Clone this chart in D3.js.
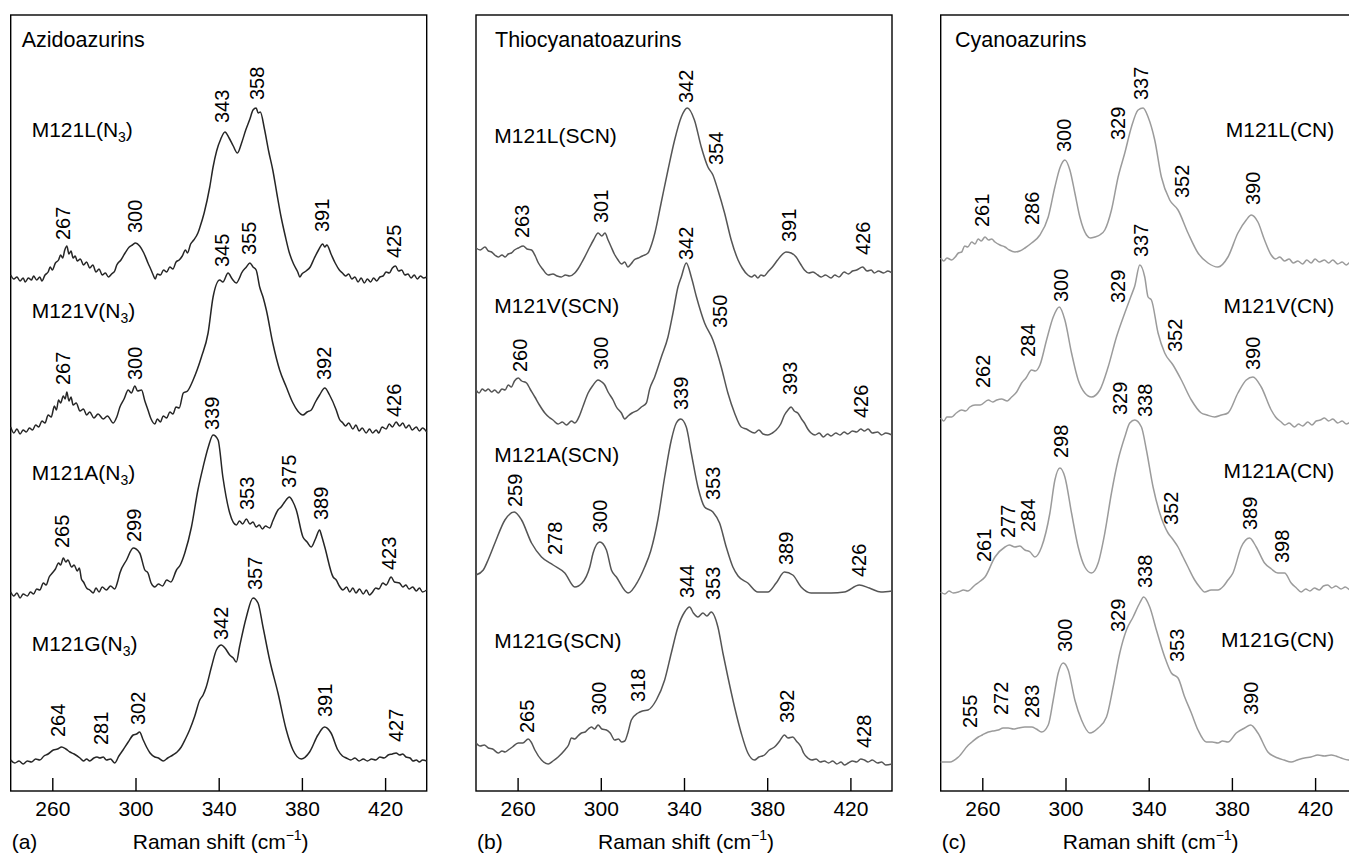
<!DOCTYPE html>
<html><head><meta charset="utf-8">
<script src="https://cdn.jsdelivr.net/npm/d3@7"></script>
<style>body{margin:0;background:#fff} svg{display:block} text{font-family:"Liberation Sans",Arial,Helvetica,sans-serif;fill:#000}</style>
</head><body><svg id="chart" width="1349" height="854"></svg>
<script>
// ---------- DATA ----------
const xDomain = [240, 440];
const yDomain = [0, 776];           // arbitrary Raman intensity (offset traces)
const tickValues = [260, 300, 340, 380, 420];
const panelLetters = ["(a)", "(b)", "(c)"];
const panelTitles = ["Azidoazurins", "Thiocyanatoazurins", "Cyanoazurins"];
const mutants = ["M121L", "M121V", "M121A", "M121G"];
const ligands = [["N", "3"], ["SCN", ""], ["CN", ""]];

// spectra: [Raman shift cm-1, intensity]
const azidoL = [[240,516],[241.5,512],[243,514],[244.5,510],[246,513],[247,509],[248.5,513],[250,511],[251,515],[252.5,511],[254,514],[255,510],[256.5,516],[258,519],[259,524],[260,521],[261.5,528],[263,531],[264,536],[265,533],[266,541],[267,545],[268,537],[269,540],[270,533],[271,535],[272,530],[273.5,532],[275,526],[276.5,529],[278,523],[279.5,526],[281,519],[282.5,522],[284,516],[285.5,518],[287,514],[288.5,517],[290,520],[291,526],[293,531],[295,538],[297,544],[298.5,546],[300,548],[302,545],[304,538],[306,528],[307.5,521],[308.5,516],[309.5,512],[310.5,517],[312,516],[313.5,521],[315,519],[316.5,524],[318,522],[319.5,529],[321,531],[322.5,535],[324,541],[325,538],[326.5,547],[328,551],[330,558],[331,564],[333,578],[335.7,604],[337.3,624],[339,640],[341,652],[343,659],[345,653],[347,645],[349,638],[351,648],[353,661],[355,672],[356.5,681],[358,683],[359,678],[360,679],[362,662],[364,640],[366,621],[368,597],[370,574],[372,555],[374,538],[376,527],[378,519],[379,514],[380,517],[382,520],[384,524],[386,533],[388,541],[390,547],[391,544],[392,546],[394,537],[396,528],[398,521],[399.5,518],[401,515],[402.5,517],[404,512],[405.5,514],[407,509],[408.5,513],[410,508],[411.5,512],[413,509],[414.5,513],[416,510],[417.5,514],[419,515],[420.5,519],[422,518],[423.5,523],[425,525],[426.5,520],[428,521],[429.5,516],[431,517],[432.5,513],[434,516],[435.5,512],[437,515],[438.5,513],[440,514]];
const azidoV = [[240,364],[241.5,358],[243,362],[244.5,357],[246,361],[247.5,359],[249,363],[250.5,361],[252,366],[253.5,364],[255,370],[256.5,368],[258,376],[259.5,374],[261,385],[262,381],[263,391],[264,388],[265.3,395],[266.2,392],[267,399],[268,390],[269,394],[270,386],[271.5,388],[273.3,380],[275,382],[276.5,376],[278,379],[280,373],[282,377],[284.5,372],[286.5,375],[289.3,368],[291,374],[292.5,384],[294.5,392],[296.5,401],[298,398],[299.7,405],[301,400],[302.9,401],[304.5,390],[306,381],[307.5,372],[309.3,367],[310.5,372],[312,369],[313.3,375],[315,373],[316.5,379],[318,377],[319.5,384],[321,383],[323,398],[325,400],[327.7,411],[331.7,434],[334.9,458],[337.3,494],[340.5,511],[342,509],[344.5,518],[346.5,512],[348.5,508],[350,513],[351,518],[353.3,524],[355,528],[356.5,524],[358,521],[359.7,504],[361.3,494],[362.9,481],[366,448],[369.3,421],[372.5,404],[375.7,388],[378,380],[380.5,376],[382.5,379],[384.5,381],[386.5,389],[388.5,396],[391,403],[393.3,396],[396.5,381],[398,372],[399.7,368],[401,365],[402.5,368],[404.5,362],[406,366],[407.5,360],[409,363],[410.9,358],[412.5,362],[414,358],[415.7,361],[417,358],[418.5,364],[420.5,362],[422,367],[423.5,364],[425.3,369],[427,365],[428.5,368],[430,363],[431.5,366],[433,361],[435,364],[436.5,360],[438,363],[440,359]];
const azidoA = [[240,199],[241.5,195],[243,198],[244.5,193],[246,197],[248,195],[249.5,199],[251,197],[252.5,202],[254,201],[255.7,208],[257,206],[258.5,214],[260,218],[261.5,222],[263,228],[264,226],[265.3,233],[266.5,229],[267.5,231],[269.3,224],[270.5,226],[272,220],[273,223],[274,212],[275,209],[276.5,203],[278,201],[279.7,198],[281,203],[282.5,199],[284,204],[286,201],[288,205],[290,202],[291.5,210],[292.5,218],[295.7,231],[298.9,243],[302,238],[304.5,221],[306,218],[307.5,208],[309.3,204],[311,207],[313,205],[315,211],[317,209],[319.7,221],[321.5,226],[323.7,238],[326.9,264],[330,301],[332.5,324],[335,344],[337.3,356],[339.7,351],[342,314],[345.3,278],[348.5,266],[350,270],[351.5,267],[353.3,272],[355,267],[356.5,269],[358,264],[359.5,266],[361,262],[362.5,265],[364.5,263],[366,270],[368.5,281],[370,284],[371.7,289],[374,294],[375.5,290],[377.3,281],[380.5,254],[382.5,249],[384.5,244],[386.5,252],[388.5,261],[389.5,255],[391,244],[395,214],[396.5,211],[398,205],[399.7,201],[401.5,204],[403,199],[404.5,203],[406,198],[407.7,202],[409.5,197],[411,201],[412.5,196],[414,199],[415.5,203],[417,202],[418.9,208],[420.5,206],[422.9,214],[424.5,209],[426.9,208],[428.5,204],[430,206],[431.5,202],[433.3,204],[435,200],[436.5,203],[438,199],[440,201]];
const azidoG = [[240,31],[242,28],[244,30],[246,27],[248,30],[250,29],[252,32],[254,31],[256,35],[258,37],[260.5,41],[262.5,42],[264.5,44],[266.5,42],[268.5,39],[270.5,37],[273.3,33],[275,30],[276.5,32],[278,30],[280,33],[281.5,34],[282.9,33],[284.5,34],[286,31],[288,32],[290,28],[292,35],[294,41],[296.5,49],[298.9,56],[300.5,57],[302,59],[303.5,52],[305.3,44],[307,38],[309.3,34],[311,33],[313.3,30],[315.5,33],[318,36],[320,39],[322,44],[324,52],[326,61],[328.5,75],[330.9,91],[332.5,96],[334,104],[336.5,124],[338.9,141],[341.3,146],[343,143],[345.3,136],[347,133],[348.5,129],[350,144],[353.3,174],[356.5,193],[358.9,188],[361.3,164],[364.5,131],[368.5,98],[372.5,61],[375.7,41],[379.7,32],[383.7,39],[387.7,56],[390.9,64],[394,58],[397.3,41],[399.5,35],[401.3,33],[403.5,31],[405.5,33],[407.5,30],[409.5,32],[411.5,30],[413.5,32],[415.5,31],[417.5,34],[419.5,33],[421.5,36],[423.5,37],[425.3,38],[427,36],[428.5,37],[430,34],[432,33],[433.5,30],[435,31],[436.5,29],[438,31],[440,30]];

const scnL = [[240,543],[242,541],[244.3,544],[246,540],[247.5,539],[249,536],[250.7,534],[252.5,536],[254,534],[255.5,537],[257,538],[258.5,541],[260.3,543],[262.7,545],[264.5,542],[266.7,541],[268.5,535],[270,528],[272,522],[274.7,516],[277,517],[279,515],[281,514],[283,516],[285,515],[287.5,518],[289,522],[290.7,528],[292.5,535],[294.7,544],[296.5,551],[298.7,558],[300.5,555],[302,558],[303.5,551],[305,544],[306.5,537],[308.3,531],[310,527],[311.5,529],[313,524],[314.5,527],[316,531],[318,533],[320,535],[322.7,538],[324.5,547],[326,558],[329,588],[332.3,621],[335.5,651],[338.7,674],[341.6,683],[345,671],[348.3,644],[351.5,624],[353.9,616],[356.3,601],[359.5,578],[362.7,551],[366,531],[368,523],[370.7,516],[372.5,514],[374,516],[375.5,513],[377,516],[378.5,515],[380.3,519],[382.5,524],[385,531],[387,536],[389,539],[391.5,538],[393.9,534],[396,527],[397.9,521],[400,518],[402,519],[404.3,516],[406,514],[408,516],[410.7,513],[412.5,516],[414.5,514],[417,519],[419,517],[421,520],[423,521],[425.9,524],[428,520],[430,521],[431.5,518],[433.5,520],[436,518],[438,520],[440,518]];
const scnV = [[240,401],[241.5,398],[243,402],[244.5,400],[245.9,402],[247.5,399],[249,401],[250.7,398],[252.5,402],[254,401],[255.5,406],[257,404],[258.5,410],[260.3,413],[262,410],[264.3,408],[266,402],[268.3,394],[270.5,386],[273.1,378],[275,374],[277,371],[279.5,367],[281.5,369],[283.5,366],[285.9,370],[287.5,368],[289.9,376],[291.5,385],[293.9,398],[296,405],[298.7,411],[300.5,409],[301.9,406],[303.5,399],[305.9,391],[307.5,384],[309.9,378],[311.5,372],[313.1,375],[315,378],[317.9,381],[319.5,384],[321.9,388],[323.5,402],[325.9,414],[329.1,434],[332.3,454],[334.7,478],[337.1,504],[338.7,514],[341.1,528],[343.5,514],[346,494],[349.9,468],[353.9,451],[357.9,424],[361.1,398],[364.3,378],[367.5,364],[370,362],[373.9,358],[376,361],[378,357],[380.3,356],[382.5,358],[384.3,361],[386.5,367],[388.3,376],[390,381],[391.5,384],[393,380],[394.7,378],[396.5,372],[397.9,368],[399.5,362],[401.1,358],[403,356],[405,358],[407,354],[409,357],[410.7,355],[413,358],[415,356],[417,359],[418.7,357],[421,360],[423,359],[425,362],[426.7,360],[428.5,362],[430.5,358],[433.1,359],[435,356],[437,358],[440,356]];
const scnA = [[240,216],[243.5,221],[246,232],[249.1,248],[253.9,271],[258.4,279],[261.9,271],[266.7,248],[271.5,234],[277.1,226],[282.7,218],[287.5,204],[291,208],[294.7,224],[296.3,238],[299.5,249],[302.7,241],[305.1,221],[307.5,214],[313.1,198],[317.9,210],[321.1,224],[324,240],[327.5,272],[330.7,314],[333.9,351],[336.3,368],[338.4,372],[341.1,364],[343.5,338],[346.7,304],[349.9,284],[353.9,279],[357.1,268],[360.3,244],[363.5,224],[366,215],[370.7,208],[375.5,199],[380.3,199],[384.3,208],[388.3,219],[392.3,216],[396.3,204],[401.1,198],[410.7,198],[417.1,199],[424.3,206],[429.1,203],[434.7,199],[440,200]];
const scnG = [[240,48],[242,45],[244,46],[245.9,43],[248,42],[250.7,38],[252.5,40],[254,39],[255.5,41],[257.5,44],[260.3,48],[262.5,48],[265.1,52],[266.5,49],[268.3,41],[271.5,31],[274.7,27],[277,30],[279.5,34],[282.7,41],[284.5,46],[285.9,53],[287.5,52],[289,55],[290.7,58],[292.5,59],[294,62],[295.5,64],[297,62],[298.7,66],[300.5,62],[302.7,61],[304.5,58],[306.7,51],[308.5,52],[310,49],[311.5,50],[313,58],[314.7,71],[317.9,78],[320,80],[322.7,81],[326.7,91],[330.7,111],[333.9,138],[337.1,164],[340.3,179],[342.7,184],[344.5,178],[346.7,174],[349.1,178],[351,175],[353.1,179],[356.3,164],[358.7,138],[361.1,114],[364.3,84],[367.5,58],[370.7,38],[373.9,31],[376,34],[378.7,36],[381,41],[383.5,44],[386,50],[388.3,56],[390,53],[392.3,54],[394,50],[396.3,44],[397.5,38],[399.5,33],[401.5,31],[403.5,32],[405.5,29],[407.5,30],[409.5,28],[411.5,30],[413.5,27],[415.5,29],[417.1,26],[419,28],[421,30],[423,29],[425,32],[426.7,31],[428.5,29],[430.5,31],[433.1,28],[435,29],[437,26],[440,27]];

const cnL = [[240,533],[241.5,530],[243,533],[245.3,531],[247,534],[248.5,538],[250.1,539],[251.5,545],[253,544],[254.9,549],[256.5,547],[258,552],[259.5,550],[261.3,554],[263,551],[264.5,552],[266.1,549],[268.5,546],[270.9,544],[273,541],[275.7,539],[278,540],[280.5,543],[283.7,548],[287.7,556],[291.7,574],[294.9,604],[297.3,623],[299.7,631],[302.1,621],[304.5,598],[306.9,574],[310.1,556],[312,553],[314.1,554],[316.5,556],[318.9,561],[322.1,581],[325.3,614],[328.5,638],[331.7,664],[334.9,681],[337.3,683],[339.7,674],[342.9,651],[346.1,614],[350.1,591],[354.1,581],[358.9,558],[363.7,538],[368.5,528],[373.3,524],[378.1,534],[382.9,558],[386.9,571],[389.3,576],[392.5,569],[395.7,551],[398.9,536],[401,532],[403,534],[405.3,530],[407.5,532],[409.5,528],[411.7,530],[414,527],[416,531],[418.1,528],[420,532],[422,529],[424.5,531],[426.5,528],[428.5,531],[430.9,527],[433,529],[435,526],[437,529],[440,528]];
const cnV = [[240,373],[241.5,370],[243,374],[245.3,374],[247.5,378],[250.1,381],[252,380],[254,384],[256.5,386],[259,386],[262.9,391],[265,389],[267,391],[269.3,392],[272,390],[274.1,394],[276.5,399],[278.9,408],[281,413],[283.7,421],[285.5,420],[287.7,426],[290.9,451],[294.1,474],[297,484],[299.7,471],[302.9,438],[306.1,411],[309.3,398],[312.5,394],[316.5,401],[320.5,424],[324.5,454],[328.5,478],[331.7,496],[333.3,505],[335.7,526],[338.1,514],[339.7,494],[341.3,491],[344.5,458],[347.7,438],[351.7,426],[355.7,411],[360.5,391],[365.3,378],[368,376],[371.7,374],[375,376],[378.1,378],[382.9,398],[386.9,411],[390.1,414],[394.1,404],[398.9,381],[401,374],[403.7,369],[405.5,366],[407.5,368],[410.1,364],[412,367],[414,365],[416.5,369],[418.5,366],[420.5,370],[422.5,371],[424.5,373],[426.5,370],[428.5,372],[430.9,368],[433,370],[435,367],[437.5,369],[440,367]];
const cnA = [[240,199],[242,197],[244,200],[246,198],[248.5,199],[251,201],[253,200],[256.5,206],[258.5,209],[261.3,214],[266.1,234],[270.9,244],[273,246],[275.7,244],[278,245],[280.5,241],[283,239],[285.3,234],[288.5,244],[292.5,278],[294.9,311],[297.3,323],[299.7,314],[302.9,278],[306.1,244],[309.3,224],[312.5,218],[315.7,228],[318.9,258],[322.1,298],[325.3,331],[328.5,354],[330.9,368],[333.3,371],[336.5,364],[338.9,341],[342.1,304],[345.3,278],[349.3,258],[351.5,252],[354.1,244],[356.5,234],[358.9,224],[362.1,211],[364.5,204],[366.9,199],[370,201],[373.3,201],[376,205],[378.1,211],[380.5,218],[384.5,244],[388.5,253],[391.7,244],[395.7,228],[399,222],[402.1,218],[405.3,218],[408.5,208],[411,203],[413.3,199],[415.5,202],[417.5,200],[419.7,203],[422,201],[424,205],[426.1,206],[428,203],[430,205],[432.5,202],[434.5,204],[437,201],[440,202]];
const cnG = [[240,29],[244.5,29],[248.5,34],[253.3,46],[255,49],[258.1,54],[260,56],[262.9,59],[265,60],[267.7,61],[270,63],[272.5,63],[275,62],[277.3,63],[280.5,64],[283.7,64],[286,62],[288.5,59],[291.7,66],[294.1,91],[296.5,118],[298.9,128],[301.3,121],[304.5,91],[307.7,71],[311.7,58],[315.7,63],[319.7,74],[322.9,104],[326.1,138],[329.3,161],[332.5,174],[335.7,188],[337.6,194],[340.5,184],[343.7,161],[347.7,134],[350.9,118],[354.1,113],[357.3,94],[360.5,78],[363.7,61],[367.7,49],[370.5,49],[373.3,48],[375.5,50],[378.1,49],[382.1,58],[386.1,63],[389,66],[392.5,58],[397.3,39],[402.1,33],[405,31],[408.5,29],[411.5,31],[414.9,33],[418,34],[421.3,36],[424.5,35],[427.7,36],[430,35],[432.5,33],[436,31],[440,32]];

// peak annotations: [label, Raman shift, intensity where label starts]
const azidoLPeaks = [["267",265.3,551],["300",299.7,558],["343",341.8,668],["358",358.4,691],["391",389.8,559],["425",424.5,533]];
const azidoVPeaks = [["267",265.3,406],["300",299.7,411],["345",341.8,524],["355",354.6,536],["392",390.4,411],["426",424.5,374]];
const azidoAPeaks = [["265",264.5,243],["299",299.2,249],["339",336.8,361],["353",353.6,281],["375",373.8,303],["389",389.3,271],["423",422,221]];
const azidoGPeaks = [["264",262.9,54],["281",283.2,46],["302",301.3,66],["342",341.3,151],["357",357.3,201],["391",390.9,74],["427",425.3,49]];
const scnLPeaks = [["263",261.9,553],["301",300.3,568],["342",341.1,688],["354",355.5,626],["391",390.7,549],["426",425.9,536]];
const scnVPeaks = [["260",261.1,419],["300",300,421],["342",341.1,531],["350",357.1,463],["393",391.2,396],["426",425.1,373]];
const scnAPeaks = [["259",258.7,284],["278",277.9,236],["300",299.5,258],["339",338.7,381],["353",353.9,291],["389",389.1,226],["426",424.3,214]];
const scnGPeaks = [["265",264.3,58],["300",299,76],["318",317.9,89],["344",341.6,193],["353",353.9,191],["392",389.6,68],["428",426.4,43]];
const cnLPeaks = [["261",260,564],["286",283.7,566],["300",299.4,639],["329",325.3,651],["337",336.5,691],["352",356,593],["390",390.1,586]];
const cnVPeaks = [["262",260.5,403],["284",282.1,434],["300",298,489],["329",325.3,488],["337",336.5,534],["352",352.5,439],["390",390.1,421]];
const cnAPeaks = [["261",261,229],["277",272.2,253],["284",281.8,259],["298",297.8,333],["329",326.1,376],["338",338.1,374],["352",350.9,266],["389",388.5,261],["398",404,228]];
const cnGPeaks = [["255",254.1,63],["272",269,76],["283",283.7,73],["300",299.7,139],["329",325.3,159],["338",338.1,203],["353",353.8,129],["390",389,76]];

const spectra = [[azidoL, azidoV, azidoA, azidoG],[scnL, scnV, scnA, scnG],[cnL, cnV, cnA, cnG]];
const peaks = [[azidoLPeaks, azidoVPeaks, azidoAPeaks, azidoGPeaks],[scnLPeaks, scnVPeaks, scnAPeaks, scnGPeaks],[cnLPeaks, cnVPeaks, cnAPeaks, cnGPeaks]];

// ---------- LAYOUT ----------
const layout = {
  lefts: [10.7, 476, 940.7], width: 416,
  colors: ["#262626", "#555555", "#9b9b9b"],
  titleDx: [11, 19, 14.3], titleY: 46.7,
  nameDx: [21, 18.3, 393.6], nameAnchor: ["start", "start", "end"],
  nameY: [[137, 318, 480, 651],[143, 313, 462, 648],[137, 313, 478, 647]],
  tickFont: 21, peakFont: 20
};

const svg = d3.select("#chart");
const y = d3.scaleLinear().domain(yDomain).range([791, 15]);
const line = d3.line().curve(d3.curveMonotoneX);

panelTitles.forEach((title, i) => {
  const L = layout.lefts[i];
  const x = d3.scaleLinear().domain(xDomain).range([L, L + layout.width]);
  const g = svg.append("g");

  // frame
  g.append("rect")
    .attr("x", x(xDomain[0])).attr("y", y(yDomain[1]))
    .attr("width", x(xDomain[1]) - x(xDomain[0])).attr("height", y(yDomain[0]) - y(yDomain[1]))
    .attr("fill", "none").attr("stroke", "#000").attr("stroke-width", 1.4);

  // axis
  const ax = g.append("g").attr("transform", `translate(0,${y(0)})`)
    .call(d3.axisBottom(x).tickValues(tickValues).tickSize(-13).tickPadding(10).tickFormat(d3.format("d")));
  ax.select(".domain").remove();
  ax.selectAll(".tick line").attr("stroke", "#000").attr("stroke-width", 1.4);
  ax.selectAll(".tick text").attr("font-size", layout.tickFont).attr("font-family", '"Liberation Sans",Arial,sans-serif').attr("fill", "#000");

  // axis title
  const t = g.append("text").attr("x", L + layout.width / 2 + 2).attr("y", 849)
    .attr("text-anchor", "middle").attr("font-size", 21);
  t.append("tspan").text("Raman shift (cm");
  t.append("tspan").attr("font-size", 14).attr("dy", -9).text("\u22121");
  t.append("tspan").attr("dy", 9).text(")");
  g.append("text").attr("x", L + 1).attr("y", 849).attr("font-size", 21).text(panelLetters[i]);

  // panel title
  g.append("text").attr("x", L + layout.titleDx[i]).attr("y", layout.titleY)
    .attr("font-size", 21.5).text(title);

  spectra[i].forEach((s, j) => {
    g.append("path")
      .attr("d", line(s.map(d => [x(d[0]), y(d[1])])))
      .attr("fill", "none").attr("stroke", layout.colors[i]).attr("stroke-width", 1.5)
      .attr("stroke-linejoin", "round");

    // peak labels
    peaks[i][j].forEach(p => {
      g.append("text")
        .attr("transform", `translate(${x(p[1])},${y(p[2])}) rotate(-90)`)
        .attr("dominant-baseline", "central")
        .attr("font-size", layout.peakFont).text(p[0]);
    });

    // series label
    const nl = g.append("text")
      .attr("x", L + layout.nameDx[i]).attr("y", layout.nameY[i][j])
      .attr("text-anchor", layout.nameAnchor[i]).attr("font-size", 21);
    const lig = ligands[i];
    nl.append("tspan").text(mutants[j] + "(" + lig[0]);
    if (lig[1]) {
      nl.append("tspan").attr("font-size", 14).attr("dy", 5).text(lig[1]);
      nl.append("tspan").attr("dy", -5).text(")");
    } else {
      nl.append("tspan").text(")");
    }
  });
});
</script>
</body></html>
